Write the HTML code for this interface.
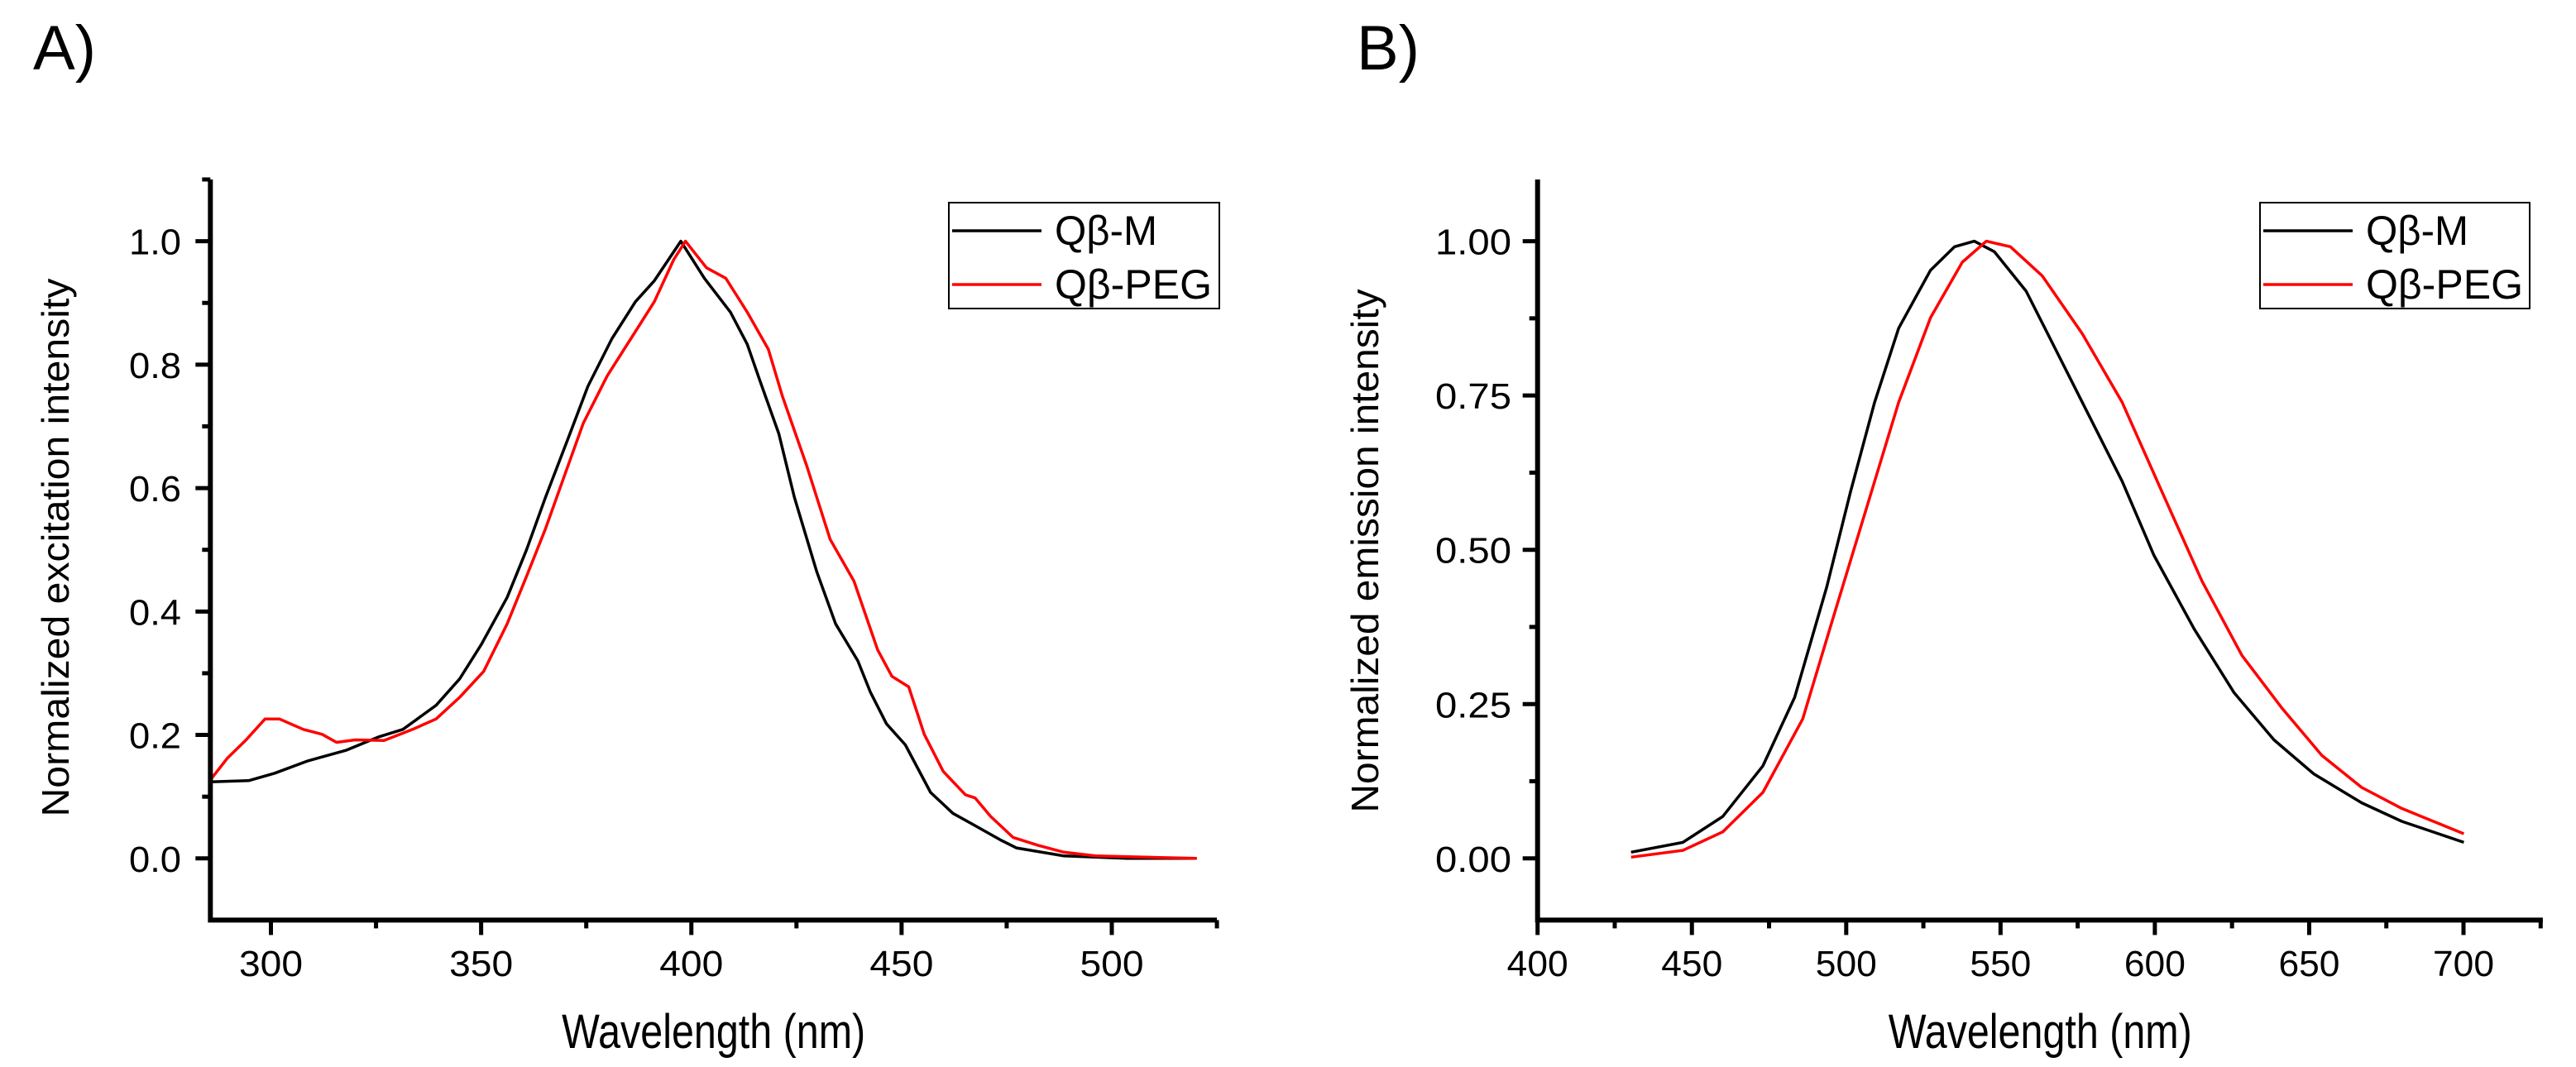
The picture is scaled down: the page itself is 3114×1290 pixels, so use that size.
<!DOCTYPE html>
<html><head><meta charset="utf-8"><style>
html,body{margin:0;padding:0;background:#fff;}
svg{display:block;}
text{font-family:"Liberation Sans",sans-serif;fill:#000;}
</style></head><body>
<svg id="fig" width="3114" height="1290" viewBox="0 0 3114 1290" xmlns="http://www.w3.org/2000/svg">
<text x="40" y="84" font-size="76">A)</text>
<text x="1640" y="84" font-size="76">B)</text>
<g id="pa"></g>
<g id="pb"></g>
</svg>
<script>
// Panel A data
const aBlackX=[285.7,294.7,300.9,308.8,317.8,325.7,331.4,339.3,344.9,350,356.2,360.8,365.3,370.9,375.4,381.1,386.7,391.2,397.5,403.1,409.3,413.3,416.3,420.8,424.5,429.8,434.3,439.6,442.6,446.4,450.9,456.9,462.2,466.7,473.5,477.3,488.6,503.6,520.2];
const aBlackY=[0.124,0.126,0.138,0.158,0.175,0.197,0.209,0.248,0.291,0.346,0.423,0.5,0.585,0.684,0.765,0.842,0.902,0.936,1.0,0.94,0.885,0.833,0.774,0.688,0.585,0.465,0.38,0.32,0.269,0.218,0.184,0.107,0.073,0.056,0.03,0.017,0.004,0,0];
const aRedX=[285.7,289.6,294.1,298.6,302,307.7,312.2,315.6,320.1,326.9,333.7,339.3,344.9,350.6,356.2,360.8,365.3,369.8,374.3,380,385.6,391.2,395.8,398.6,403.6,408.2,413.3,418.3,421.7,427.4,433,438.7,444.3,447.7,451.7,455.4,459.9,465.2,467.5,471.2,476.5,482.5,488.6,496.1,520.2];
const aRedY=[0.128,0.162,0.192,0.226,0.226,0.209,0.201,0.188,0.192,0.191,0.209,0.226,0.261,0.303,0.38,0.457,0.534,0.62,0.705,0.782,0.842,0.902,0.97,1.0,0.957,0.94,0.885,0.825,0.748,0.637,0.517,0.449,0.338,0.295,0.278,0.201,0.141,0.103,0.098,0.068,0.034,0.021,0.010,0.004,0];
const aXTicks=[300,350,400,450,500];
const aXTickLabels=["300","350","400","450","500"];
const aYTicks=[0,0.2,0.4,0.6,0.8,1.0];
const aYTickLabels=["0.0","0.2","0.4","0.6","0.8","1.0"];
// Panel B data
const bBlackX=[430.3,447.1,460,473,483.3,493.7,501.4,509.2,517,527.3,535.1,541.5,548,558.3,566.1,576.5,589.4,599.7,612.7,625.6,638.6,651.5,667,680,700.1];
const bBlackY=[0.01,0.026,0.068,0.15,0.261,0.44,0.594,0.739,0.859,0.953,0.991,1.0,0.983,0.919,0.842,0.739,0.611,0.491,0.372,0.269,0.192,0.137,0.09,0.06,0.026];
const bRedX=[430.3,447.1,460,473,485.9,496.2,506.6,517,527.3,537.6,545.4,553.2,563.5,576.5,589.4,602.3,615.3,628.2,641.1,654.1,667,680,700.1];
const bRedY=[0.002,0.013,0.043,0.107,0.226,0.397,0.568,0.739,0.876,0.966,1.0,0.991,0.944,0.85,0.739,0.594,0.449,0.329,0.244,0.167,0.115,0.081,0.04];
const bXTicks=[400,450,500,550,600,650,700];
const bXTickLabels=["400","450","500","550","600","650","700"];
const bYTicks=[0,0.25,0.5,0.75,1.0];
const bYTickLabels=["0.00","0.25","0.50","0.75","1.00"];

const NS="http://www.w3.org/2000/svg";
function mk(parent,tag,attrs){const e=document.createElementNS(NS,tag);for(const k in attrs)e.setAttribute(k,attrs[k]);parent.appendChild(e);return e;}

function panel(g,o){
  const sx=v=>o.px0+(v-o.x0)*(o.px1-o.px0)/(o.x1-o.x0);
  const sy=v=>o.py0+(v-o.y0)*(o.py1-o.py0)/(o.y1-o.y0);
  const L=sx(o.xmin),R=sx(o.xmax),T=sy(o.ymax),B=sy(o.ymin);
  // series
  o.series.forEach(s=>{
    const pts=s.x.map((v,i)=>sx(v).toFixed(1)+","+sy(s.y[i]).toFixed(1)).join(" ");
    const pl=mk(g,"polyline",{points:pts,fill:"none",stroke:s.color,"stroke-width":3.5,"stroke-linejoin":"round"});
    
    
  });
  // axes
  const ax=mk(g,"path",{d:`M${L},${T} L${L},${B} L${R},${B}`,fill:"none",stroke:"#000","stroke-width":6});
  
  
  // x ticks
  for(let v=o.xminor0;v<=o.xmax+0.01;v+=o.xminorStep){
    const major=o.xt.some(t=>Math.abs(t-v)<0.01);
    const t=mk(g,"line",{x1:sx(v),x2:sx(v),y1:B,y2:B+(major?18:10),stroke:"#000","stroke-width":5});
    
    
  }
  o.xt.forEach((v,i)=>{
    const tx=mk(g,"text",{x:sx(v),y:1180,"font-size":o.tickFs,"text-anchor":"middle",textLength:o.xLabW,lengthAdjust:"spacingAndGlyphs"});
    tx.textContent=o.xtl[i];
    
    
  });
  for(let v=o.yminor0;v<=o.ymax+0.001;v+=o.yminorStep){
    const major=o.yt.some(t=>Math.abs(t-v)<0.001);
    const t=mk(g,"line",{x1:L,x2:L-(major?18:10),y1:sy(v),y2:sy(v),stroke:"#000","stroke-width":5});
    
    
  }
  o.yt.forEach((v,i)=>{
    const tx=mk(g,"text",{x:o.yLabR,y:sy(v)+16,"font-size":o.tickFs,"text-anchor":"end",textLength:o.yLabW,lengthAdjust:"spacingAndGlyphs"});
    tx.textContent=o.ytl[i];
    
    
  });
  // titles
  const xt=mk(g,"text",{x:(L+R)/2,y:1267,"font-size":58,"text-anchor":"middle",textLength:367,lengthAdjust:"spacingAndGlyphs"});
  xt.textContent="Wavelength (nm)";
  
  
  const yt=mk(g,"text",{x:0,y:0,"font-size":46,"text-anchor":"middle",textLength:o.yTitleLen,lengthAdjust:"spacingAndGlyphs",transform:`translate(${o.yTitleX},${o.yTitleY}) rotate(-90)`});
  yt.textContent=o.yTitle;
  
  
  // legend
  const lg=mk(g,"g",{});
  
  
  mk(lg,"rect",{x:o.lx,y:245,width:o.lw,height:128,fill:"#fff",stroke:"#000","stroke-width":2});
  o.series.forEach((s,i)=>{
    const yy=279+i*65;
    const ln=mk(lg,"line",{x1:o.lx+4,x2:o.lx+112,y1:yy,y2:yy,stroke:s.color,"stroke-width":3.5});
    
    
    const t=mk(lg,"text",{x:o.lx+128,y:yy+17,"font-size":50,textLength:s.labW,lengthAdjust:"spacingAndGlyphs"});
    t.textContent=s.label;
    
    
  });
}

panel(document.getElementById("pa"),{
  x0:300,x1:500,px0:327.5,px1:1344,y0:0,y1:1,py0:1037.8,py1:291.6,
  xmin:285.6,xmax:525,ymin:-0.1,ymax:1.1,
  xt:aXTicks,xtl:aXTickLabels,yt:aYTicks,ytl:aYTickLabels,
  xminor0:300,xminorStep:25,yminor0:0,yminorStep:0.1,
  tickFs:44,xLabW:77,yLabW:63,yLabR:219,
  yTitle:"Normalized excitation intensity",yTitleX:83,yTitleY:662,yTitleLen:651,
  lx:1147,lw:327,
  series:[{name:"qb-m-excitation-line",label:"Qβ-M",color:"#000",x:aBlackX,y:aBlackY,labW:124},
          {name:"qb-peg-excitation-line",label:"Qβ-PEG",color:"#f00",x:aRedX,y:aRedY,labW:190}]
});
panel(document.getElementById("pb"),{
  x0:400,x1:700,px0:1858.7,px1:2978,y0:0,y1:1,py0:1037.8,py1:291.6,
  xmin:400,xmax:725.7,ymin:-0.1,ymax:1.1,
  xt:bXTicks,xtl:bXTickLabels,yt:bYTicks,ytl:bYTickLabels,
  xminor0:400,xminorStep:25,yminor0:0,yminorStep:0.125,
  tickFs:44,xLabW:74,yLabW:92,yLabR:1827,
  yTitle:"Normalized emission intensity",yTitleX:1666,yTitleY:666,yTitleLen:633,
  lx:2732,lw:326,
  series:[{name:"qb-m-emission-line",label:"Qβ-M",color:"#000",x:bBlackX,y:bBlackY,labW:124},
          {name:"qb-peg-emission-line",label:"Qβ-PEG",color:"#f00",x:bRedX,y:bRedY,labW:190}]
});
</script>
</body></html>
